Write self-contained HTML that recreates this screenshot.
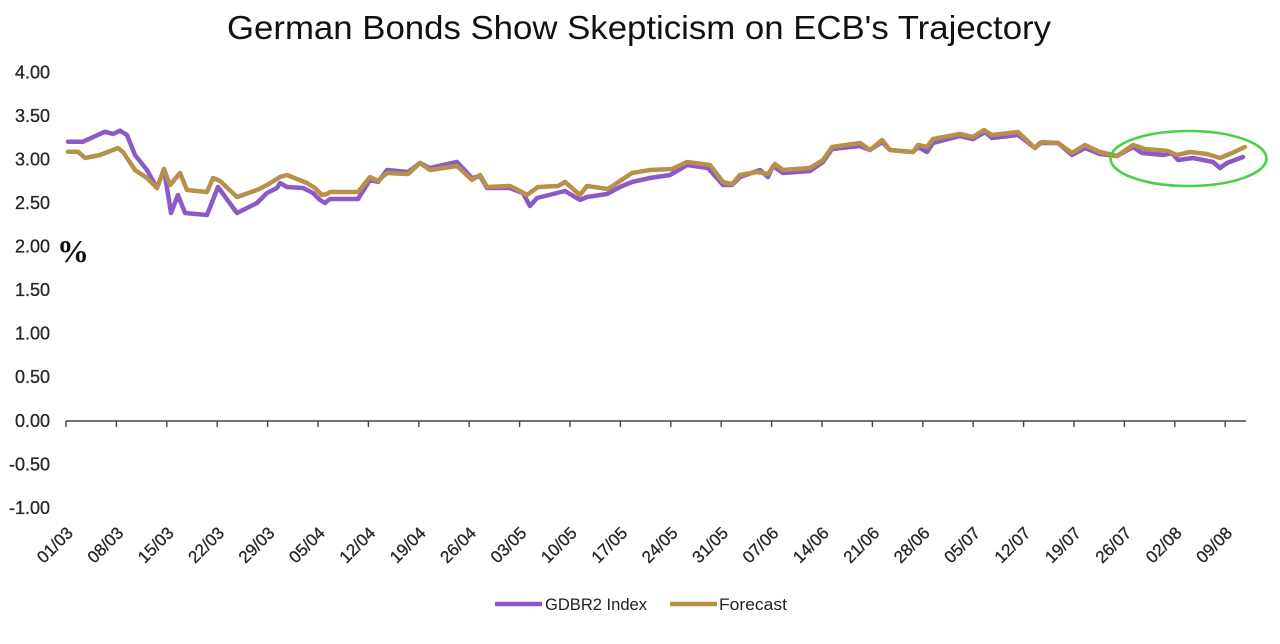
<!DOCTYPE html>
<html>
<head>
<meta charset="utf-8">
<style>
  html,body{margin:0;padding:0;background:#fff;}
  svg{display:block;}
  .yl{font-family:"Liberation Sans",sans-serif;font-size:18px;fill:#262626;stroke:#262626;stroke-width:0.3;text-anchor:end;}
  .xl{font-family:"Liberation Sans",sans-serif;font-size:17px;fill:#262626;stroke:#262626;stroke-width:0.3;text-anchor:end;}
  .lg{font-family:"Liberation Sans",sans-serif;font-size:17px;fill:#222;}
</style>
</head>
<body>
<svg width="1280" height="644" viewBox="0 0 1280 644" xmlns="http://www.w3.org/2000/svg">
  <rect width="1280" height="644" fill="#fff"/>
  <text x="227" y="39" font-family="Liberation Sans, sans-serif" font-size="33" fill="#111" textLength="824" lengthAdjust="spacingAndGlyphs">German Bonds Show Skepticism on ECB's Trajectory</text>

  <!-- Y labels -->
  <text class="yl" x="50" y="78.5">4.00</text>
  <text class="yl" x="50" y="122">3.50</text>
  <text class="yl" x="50" y="165.5">3.00</text>
  <text class="yl" x="50" y="209">2.50</text>
  <text class="yl" x="50" y="252.5">2.00</text>
  <text class="yl" x="50" y="296">1.50</text>
  <text class="yl" x="50" y="339.5">1.00</text>
  <text class="yl" x="50" y="383">0.50</text>
  <text class="yl" x="50" y="427">0.00</text>
  <text class="yl" x="50" y="470.5">-0.50</text>
  <text class="yl" x="50" y="514">-1.00</text>

  <text x="57" y="262" font-family="Liberation Serif, serif" font-size="32" font-weight="bold" fill="#111">%</text>

  <!-- axis -->
  <line x1="66" y1="421" x2="1246" y2="421" stroke="#444" stroke-width="1.6"/>
  <g stroke="#444" stroke-width="1.4">
    <line x1="66" y1="421" x2="66" y2="427"/>
    <line x1="116.4" y1="421" x2="116.4" y2="427"/>
    <line x1="166.8" y1="421" x2="166.8" y2="427"/>
    <line x1="217.2" y1="421" x2="217.2" y2="427"/>
    <line x1="267.6" y1="421" x2="267.6" y2="427"/>
    <line x1="318" y1="421" x2="318" y2="427"/>
    <line x1="368.4" y1="421" x2="368.4" y2="427"/>
    <line x1="418.8" y1="421" x2="418.8" y2="427"/>
    <line x1="469.2" y1="421" x2="469.2" y2="427"/>
    <line x1="519.6" y1="421" x2="519.6" y2="427"/>
    <line x1="570" y1="421" x2="570" y2="427"/>
    <line x1="620.4" y1="421" x2="620.4" y2="427"/>
    <line x1="670.8" y1="421" x2="670.8" y2="427"/>
    <line x1="721.2" y1="421" x2="721.2" y2="427"/>
    <line x1="771.6" y1="421" x2="771.6" y2="427"/>
    <line x1="822" y1="421" x2="822" y2="427"/>
    <line x1="872.4" y1="421" x2="872.4" y2="427"/>
    <line x1="922.8" y1="421" x2="922.8" y2="427"/>
    <line x1="973.2" y1="421" x2="973.2" y2="427"/>
    <line x1="1023.6" y1="421" x2="1023.6" y2="427"/>
    <line x1="1074" y1="421" x2="1074" y2="427"/>
    <line x1="1124.4" y1="421" x2="1124.4" y2="427"/>
    <line x1="1174.8" y1="421" x2="1174.8" y2="427"/>
    <line x1="1225.2" y1="421" x2="1225.2" y2="427"/>
  </g>

  <!-- X labels -->
  <text class="xl" transform="translate(74,534) rotate(-45)">01/03</text>
  <text class="xl" transform="translate(124.4,534) rotate(-45)">08/03</text>
  <text class="xl" transform="translate(174.8,534) rotate(-45)">15/03</text>
  <text class="xl" transform="translate(225.2,534) rotate(-45)">22/03</text>
  <text class="xl" transform="translate(275.6,534) rotate(-45)">29/03</text>
  <text class="xl" transform="translate(326,534) rotate(-45)">05/04</text>
  <text class="xl" transform="translate(376.4,534) rotate(-45)">12/04</text>
  <text class="xl" transform="translate(426.8,534) rotate(-45)">19/04</text>
  <text class="xl" transform="translate(477.2,534) rotate(-45)">26/04</text>
  <text class="xl" transform="translate(527.6,534) rotate(-45)">03/05</text>
  <text class="xl" transform="translate(578,534) rotate(-45)">10/05</text>
  <text class="xl" transform="translate(628.4,534) rotate(-45)">17/05</text>
  <text class="xl" transform="translate(678.8,534) rotate(-45)">24/05</text>
  <text class="xl" transform="translate(729.2,534) rotate(-45)">31/05</text>
  <text class="xl" transform="translate(779.6,534) rotate(-45)">07/06</text>
  <text class="xl" transform="translate(830,534) rotate(-45)">14/06</text>
  <text class="xl" transform="translate(880.4,534) rotate(-45)">21/06</text>
  <text class="xl" transform="translate(930.8,534) rotate(-45)">28/06</text>
  <text class="xl" transform="translate(981.2,534) rotate(-45)">05/07</text>
  <text class="xl" transform="translate(1031.6,534) rotate(-45)">12/07</text>
  <text class="xl" transform="translate(1082,534) rotate(-45)">19/07</text>
  <text class="xl" transform="translate(1132.4,534) rotate(-45)">26/07</text>
  <text class="xl" transform="translate(1182.8,534) rotate(-45)">02/08</text>
  <text class="xl" transform="translate(1233.2,534) rotate(-45)">09/08</text>

  <!-- GDBR2 Index -->
  <polyline fill="none" stroke="#8b5ac6" stroke-width="4.5" stroke-linejoin="round" stroke-linecap="round"
    points="68,141.7 83,141.7 105,131.7 113,134 120,130.7 127,135 135,155 147,170 157,188 164,169 171,213 178,195 185,213 207,215 218,187 237,213 257,203 267,193 277,188 280,183 287,187 303,188 313,193 320,200 325,203 330,199 358,199 370,180 378,182 387,170 408,172 420,163 430,168 457,162 472,178 480,176 487,188 510,188 520,192 523,193 530,206 537,198 565,191 580,200 587,197 607,194 620,187 632,182 650,178 670,175 687,165 708,168 723,185 732,185 740,177 760,170 768,177 773,166 783,173 810,171 823,162 832,149 860,146 870,150 882,142 890,150 913,152 918,147 927,152 933,143 960,136 973,139 985,132 992,138 1018,135 1035,148 1040,143 1058,143 1072,155 1085,148 1100,154 1117,156 1133,147 1142,153 1163,155 1172,153 1178,160 1193,158 1213,162 1220,168 1227,163 1243,157"/>

  <!-- Forecast -->
  <polyline fill="none" stroke="#b8904c" stroke-width="4.5" stroke-linejoin="round" stroke-linecap="round"
    points="68,151.7 78,151.7 85,158 100,155 118,148 123,152 135,170 147,178 157,188 164,169 170,185 180,173 187,190 207,192 213,178 220,181 237,197 257,190 267,185 280,177 287,175 307,183 315,188 322,195 327,194 330,192 358,192 370,177 378,181 387,173 408,174 420,163 430,170 457,166 472,180 480,175 487,187 510,186 520,191 527,195 538,187 558,186 565,182 580,195 587,186 608,189 632,173 650,170 672,169 687,162 710,165 723,182 732,184 740,175 757,172 768,174 775,164 783,170 810,168 823,160 832,147 860,143 870,150 882,140 890,150 913,152 918,145 927,147 933,139 960,134 973,137 984,130 992,135 1018,132 1035,148 1042,142 1058,143 1072,153 1085,145 1100,152 1117,156 1133,145 1145,149 1168,151 1177,155 1190,152 1207,154 1220,158 1232,153 1245,147"/>

  <!-- green ellipse -->
  <ellipse cx="1188.5" cy="158.5" rx="78" ry="27.5" fill="none" stroke="#45d245" stroke-width="2.6"/>

  <!-- legend -->
  <line x1="495" y1="604" x2="542" y2="604" stroke="#8b5ac6" stroke-width="4.5"/>
  <text class="lg" x="545" y="610" textLength="102" lengthAdjust="spacingAndGlyphs">GDBR2 Index</text>
  <line x1="670" y1="604" x2="717" y2="604" stroke="#b8904c" stroke-width="4.5"/>
  <text class="lg" x="719" y="610" textLength="68" lengthAdjust="spacingAndGlyphs">Forecast</text>
</svg>
</body>
</html>
